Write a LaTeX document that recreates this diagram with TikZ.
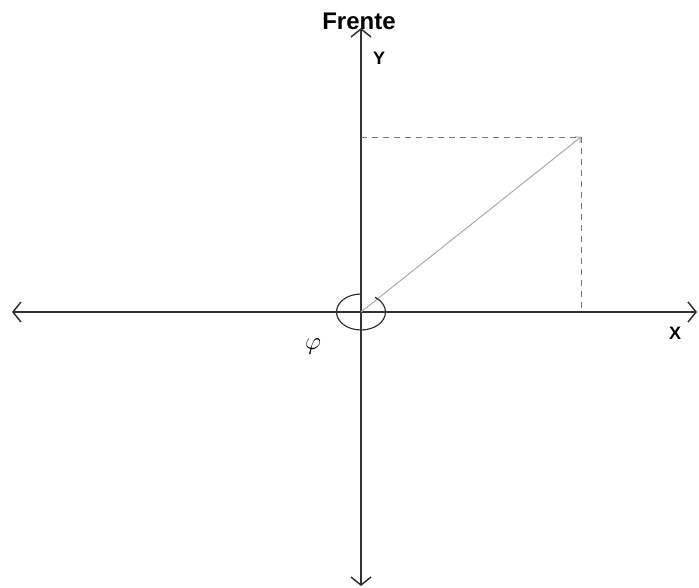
\documentclass[tikz,border=0pt]{standalone}
\usepackage{fontspec}
\setmainfont{Liberation Sans}
\usetikzlibrary{arrows.meta, positioning}
\definecolor{axisGray}{RGB}{50, 50, 50}
\definecolor{vectorGray}{RGB}{170, 170, 170}
\definecolor{guideGray}{RGB}{120, 120, 120}

\begin{document}
\begin{tikzpicture}[
        x=1pt, y=-1pt,
        axisLine/.style={axisGray, line width=1.5pt, {Straight Barb[length=8pt, width=20pt]}-{Straight Barb[length=8pt, width=20pt]}},
        vectorLine/.style={vectorGray, line width=1pt, -{Straight Barb[length=4pt, width=8pt]}},
        guideLine/.style={guideGray, line width=0.9pt, dash pattern=on 6pt off 5pt},
        axisLabel/.style={font=\bfseries\fontsize{18}{20}\selectfont, inner sep=1pt}
    ]
        \useasboundingbox (0,0) rectangle (699,588);

        \coordinate (origin) at (361,312);
        \coordinate (left) at (12,312);
        \coordinate (right) at (697,312);
        \coordinate (top) at (361,28);
        \coordinate (bottom) at (361,586);
        \coordinate (tip) at (581,137);
        \coordinate (tipY) at (361,137);
        \coordinate (tipX) at (581,312);

        \draw[axisLine] (left) -- (right);
        \draw[axisLine] (bottom) -- (top);

        \draw[guideLine] (tipY) -- (tip);
        \draw[guideLine] (tip) -- (tipX);
        \draw[vectorLine] (origin) -- (tip);

        % angle marker
        \draw[axisGray, line width=1.2pt] ([shift={(90:24.5pt and 18pt)}]origin) arc[start angle=90, end angle=415, x radius=24.5pt, y radius=18pt];

        \node[axisLabel, font=\bfseries\fontsize{24}{26}\selectfont] (frente) at (359,21) {Frente};
        \node[axisLabel] (labelY) at (379,58) {Y};
        \node[axisLabel] (labelX) at (675,333) {X};
        \node[font=\fontsize{24}{26}\selectfont] (phi) at (313,347) {$\varphi$};
    \end{tikzpicture}
\end{document}
